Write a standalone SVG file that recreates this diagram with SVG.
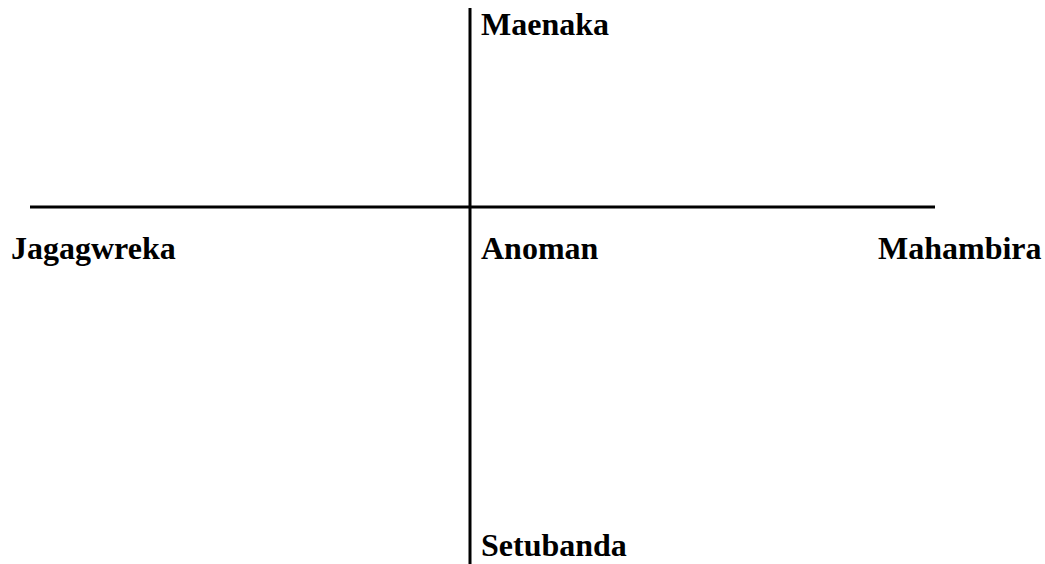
<svg xmlns="http://www.w3.org/2000/svg" width="1045" height="564" viewBox="0 0 1045 564">
<style>
.lbl{font-family:"Liberation Serif","Times New Roman",serif;font-weight:bold;font-size:32px;fill:#000}
.ax{stroke:#000;stroke-width:3;fill:none}
</style>
<rect width="1045" height="564" fill="#fff"/>
<g id="connectors">
<line class="ax" x1="470" y1="8" x2="470" y2="564"/>
<line class="ax" x1="30" y1="207" x2="935" y2="207"/>
</g>
<g id="maenaka"><text class="lbl" x="481" y="35">Maenaka</text></g>
<g id="jagagwreka"><text class="lbl" x="11" y="259">Jagagwreka</text></g>
<g id="anoman"><text class="lbl" x="481" y="259">Anoman</text></g>
<g id="mahambira"><text class="lbl" x="878" y="259">Mahambira</text></g>
<g id="setubanda"><text class="lbl" x="481" y="556">Setubanda</text></g>
</svg>
